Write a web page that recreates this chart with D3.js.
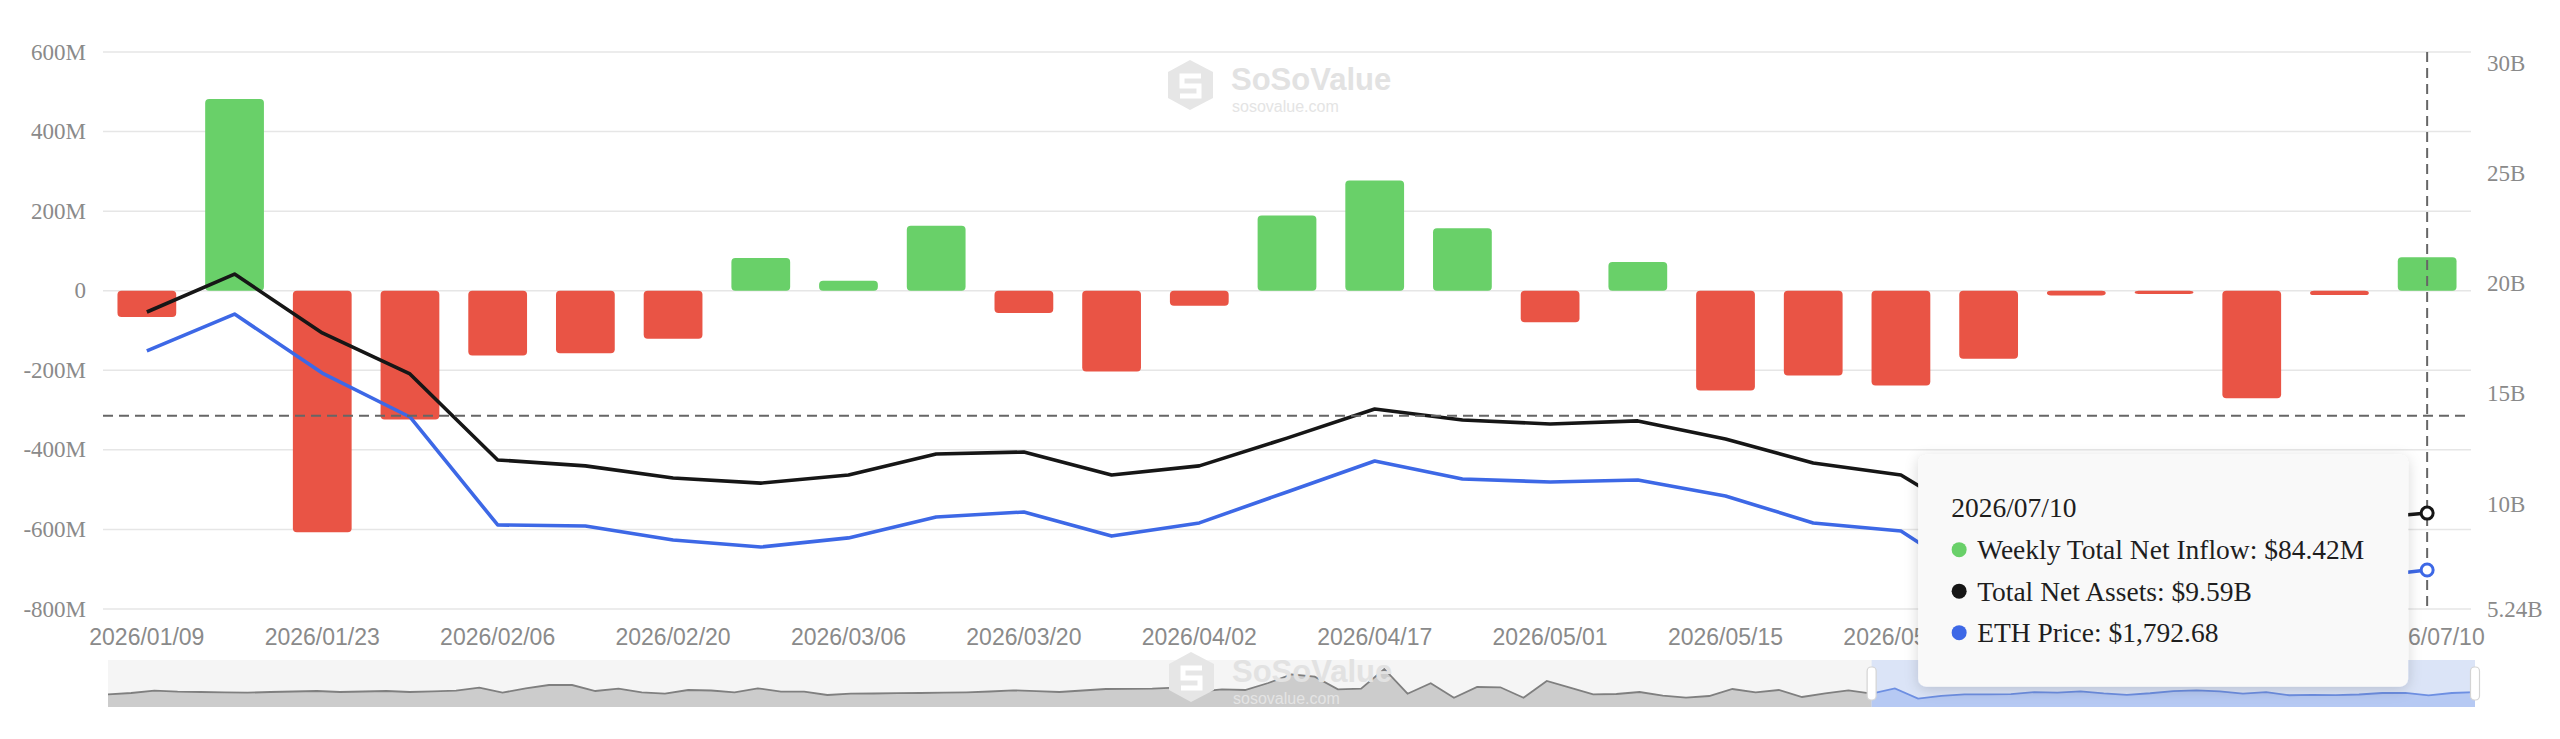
<!DOCTYPE html>
<html>
<head>
  <meta charset="utf-8">
  <title>ETH Spot ETF Weekly Total Net Inflow</title>
  <style>
    body { margin: 0; background: #fff; }
    .axis_label { font-family: "Liberation Serif", "Times New Roman", serif; font-size: 23px; fill: #8a8a8a; dominant-baseline: central; }
    .date_label { font-family: "Liberation Sans", Arial, sans-serif; font-size: 23px; fill: #8a8a8a; text-anchor: middle; dominant-baseline: central; }
    .tip_text { font-family: "Liberation Serif", "Times New Roman", serif; font-size: 27.5px; fill: #1e1e1e; dominant-baseline: central; }
    .wm_big { font-family: "Liberation Sans", Arial, sans-serif; font-weight: bold; font-size: 31px; fill: #e2e2e2; }
    .wm_small { font-family: "Liberation Sans", Arial, sans-serif; font-size: 16px; fill: #e4e4e4; }
  </style>
</head>
<body>
  <svg id="chart"></svg>
  <script src="https://cdnjs.cloudflare.com/ajax/libs/d3/7.8.5/d3.min.js"></script>
  <script>
    // visible weeks (main window)
    const weeks = ["2026/01/09", "2026/01/16", "2026/01/23", "2026/01/30", "2026/02/06", "2026/02/13", "2026/02/20",
      "2026/02/27", "2026/03/06", "2026/03/13", "2026/03/20", "2026/03/27", "2026/04/02", "2026/04/10", "2026/04/17",
      "2026/04/24", "2026/05/01", "2026/05/08", "2026/05/15", "2026/05/22", "2026/05/29", "2026/06/05", "2026/06/12",
      "2026/06/19", "2026/06/26", "2026/07/02", "2026/07/10"];

    // weekly total net inflow, $M
    const weeklyInflow = [-66, 482, -607, -324, -163, -157, -121, 82, 25, 163, -56, -203, -38, 189, 277, 157, -79, 72,
      -251, -213, -238, -171, -12, -8, -270, -11, 84.42];

    // total net assets, $B
    const totalNetAssets = [18.71, 20.43, 17.76, 15.90, 12.00, 11.73, 11.18, 10.95, 11.32, 12.27, 12.36, 11.32, 11.73,
      12.99, 14.31, 13.81, 13.63, 13.77, 12.95, 11.86, 11.32, 8.91, 9.28, 9.37, 9.09, 9.23, 9.59];

    // ETH price, $
    const ethPrice = [2874, 3056, 2765, 2548, 2015, 2010, 1941, 1906, 1951, 2054, 2079, 1960, 2025, 2178, 2331, 2242,
      2227, 2237, 2158, 2025, 1985, 1704, 1723, 1743, 1714, 1743, 1792.68];

    // earlier weekly inflow shown only in the slider, $M
    const historyInflow = [-149, -11, 234, 128, 96, 64, 21, 96, 149, 202, 96, 149, 202, 96, 170, 234, 553, 21, 489, 840,
      840, 202, 447, 64, -85, 309, 255, 64, 489, 128, 128, -223, -85, -64, -32, -11, 32, 64, 149, 277,
      181, 96, 255, 415, 436, 447, 553, 128, 383, 309, 1053, 1979, 1723, 383, 447, 2543, -85, 1021, -511, 628,
      596, -511, 1266, 553, -149, -117, 96, -298, -511, -330, 415, 64, 309, -436, -43, 277];

    const leftTicks = [-800, -600, -400, -200, 0, 200, 400, 600];
    const rightTicks = [5.24, 10, 15, 20, 25, 30];
    const hoverIndex = 26;
    const cursorInflow = -314;

    const dims = { width: 2560, height: 739, left: 103, right: 2471, top: 52, bottom: 609, nav_top: 660, nav_bottom: 707, nav_left: 108, nav_right: 2475 };
    const colors = { up: "#69d069", down: "#e95445", assets: "#161616", eth: "#3d68e6", grid: "#e6e6e6", label: "#8a8a8a" };

    const svg = d3.select("#chart").attr("width", dims.width).attr("height", dims.height);

    const defs = svg.append("defs");
    const shadow = defs.append("filter").attr("id", "tipshadow").attr("x", "-10%").attr("y", "-10%").attr("width", "120%").attr("height", "130%");
    shadow.append("feDropShadow").attr("dx", 0).attr("dy", 3).attr("stdDeviation", 7).attr("flood-color", "#000").attr("flood-opacity", 0.16);

    const x = d3.scaleBand().domain(weeks).range([dims.left, dims.right]).paddingInner(0.33).paddingOuter(0.165);
    const xc = w => x(w) + x.bandwidth() / 2;
    const yLeft = d3.scaleLinear().domain([-800, 600]).range([dims.bottom, dims.top]);
    const yRight = d3.scaleLinear().domain([5.24, 30.5]).range([dims.bottom, dims.top]);
    const yEth = d3.scaleLinear().domain([1600, 4350]).range([dims.bottom, dims.top]);

    // watermark
    const watermark = (g, ox, oy) => {
      const wm = g.append("g").attr("transform", "translate(" + ox + "," + oy + ")");
      const hex = [[22, 0], [45, 12], [45, 38], [22, 50], [0, 38], [0, 12]];
      wm.append("path").attr("d", d3.line()(hex) + "Z").attr("fill", "#e6e6e6");
      wm.append("path").attr("d", d3.line()([[33, 16], [14, 16], [14, 26], [31, 26], [31, 36], [12, 36]]))
        .attr("fill", "none").attr("stroke", "#fff").attr("stroke-width", 5);
      wm.append("text").attr("class", "wm_big").attr("x", 63).attr("y", 30).text("SoSoValue");
      wm.append("text").attr("class", "wm_small").attr("x", 64).attr("y", 52).text("sosovalue.com");
    };
    watermark(svg, 1168, 60);

    // grid + axes
    svg.append("g").selectAll("line").data(leftTicks).enter().append("line")
      .attr("x1", dims.left).attr("x2", dims.right)
      .attr("y1", t => yLeft(t)).attr("y2", t => yLeft(t))
      .attr("stroke", colors.grid).attr("stroke-width", 1.5);

    svg.append("g").selectAll("text").data(leftTicks).enter().append("text")
      .attr("class", "axis_label").attr("text-anchor", "end")
      .attr("x", 86).attr("y", t => yLeft(t))
      .text(t => t === 0 ? "0" : t + "M");

    svg.append("g").selectAll("text").data(rightTicks).enter().append("text")
      .attr("class", "axis_label").attr("text-anchor", "start")
      .attr("x", 2487).attr("y", t => yRight(t))
      .text(t => t + "B");

    // tooltip box, needed to know which date labels it hides
    const tipW = 490, tipH = 232;
    const cx = xc(weeks[hoverIndex]);
    const cy = yLeft(cursorInflow);
    const tipX = cx - 19 - tipW, tipY = cy + 39;
    const hidden = w => xc(w) - 59 > tipX && xc(w) + 59 < tipX + tipW;

    svg.append("g").selectAll("text").data(weeks.filter((w, i) => i % 2 === 0 && !hidden(w))).enter().append("text")
      .attr("class", "date_label").attr("x", w => xc(w)).attr("y", 637).text(w => w);

    // bars
    svg.append("g").selectAll("rect").data(weeklyInflow).enter().append("rect")
      .attr("x", (_, i) => x(weeks[i]))
      .attr("width", x.bandwidth())
      .attr("y", v => Math.min(yLeft(v), yLeft(0)))
      .attr("height", v => Math.abs(yLeft(v) - yLeft(0)))
      .attr("rx", 4)
      .attr("fill", v => v >= 0 ? colors.up : colors.down);

    // lines
    const assetsLine = d3.line().x((_, i) => xc(weeks[i])).y(v => yRight(v));
    const ethLine = d3.line().x((_, i) => xc(weeks[i])).y(v => yEth(v));
    svg.append("path").attr("d", assetsLine(totalNetAssets)).attr("fill", "none")
      .attr("stroke", colors.assets).attr("stroke-width", 3.6).attr("stroke-linejoin", "round");
    svg.append("path").attr("d", ethLine(ethPrice)).attr("fill", "none")
      .attr("stroke", colors.eth).attr("stroke-width", 3.6).attr("stroke-linejoin", "round");

    // crosshair
    svg.append("line").attr("x1", dims.left).attr("x2", dims.right).attr("y1", cy).attr("y2", cy)
      .attr("stroke", "#666").attr("stroke-width", 2).attr("stroke-dasharray", "10,6");
    svg.append("line").attr("x1", cx).attr("x2", cx).attr("y1", dims.top).attr("y2", dims.bottom)
      .attr("stroke", "#666").attr("stroke-width", 2).attr("stroke-dasharray", "10,6");

    svg.append("circle").attr("cx", cx).attr("cy", yRight(totalNetAssets[hoverIndex])).attr("r", 6)
      .attr("fill", "#fff").attr("stroke", colors.assets).attr("stroke-width", 3);
    svg.append("circle").attr("cx", cx).attr("cy", yEth(ethPrice[hoverIndex])).attr("r", 6)
      .attr("fill", "#fff").attr("stroke", colors.eth).attr("stroke-width", 3);

    // slider
    const navData = historyInflow.concat(weeklyInflow);
    const navX = d3.scaleLinear().domain([0, navData.length - 1]).range([dims.nav_left, dims.nav_right]);
    const navY = d3.scaleLinear().domain([-1500, 3500]).range([dims.nav_bottom, dims.nav_top]);
    const winStart = navX(historyInflow.length);
    const navH = dims.nav_bottom - dims.nav_top;

    svg.append("rect").attr("x", dims.nav_left).attr("y", dims.nav_top).attr("width", dims.nav_right - dims.nav_left)
      .attr("height", navH).attr("fill", "#f5f5f5");
    svg.append("rect").attr("x", winStart).attr("y", dims.nav_top).attr("width", dims.nav_right - winStart)
      .attr("height", navH).attr("fill", "#dbe4f7");

    defs.append("clipPath").attr("id", "navOut").append("rect")
      .attr("x", dims.nav_left).attr("y", dims.nav_top).attr("width", winStart - dims.nav_left).attr("height", navH);
    defs.append("clipPath").attr("id", "navIn").append("rect")
      .attr("x", winStart).attr("y", dims.nav_top).attr("width", dims.nav_right - winStart).attr("height", navH);

    const navArea = d3.area().x((_, i) => navX(i)).y0(dims.nav_bottom).y1(v => navY(v));
    const navLine = d3.line().x((_, i) => navX(i)).y(v => navY(v));
    const gOut = svg.append("g").attr("clip-path", "url(#navOut)");
    gOut.append("path").attr("d", navArea(navData)).attr("fill", "#cccccc");
    gOut.append("path").attr("d", navLine(navData)).attr("fill", "none").attr("stroke", "#7f7f7f").attr("stroke-width", 1.8);
    const gIn = svg.append("g").attr("clip-path", "url(#navIn)");
    gIn.append("path").attr("d", navArea(navData)).attr("fill", "#b6c9f3");
    gIn.append("path").attr("d", navLine(navData)).attr("fill", "none").attr("stroke", "#6d8fe2").attr("stroke-width", 1.8);

    [winStart, dims.nav_right].forEach(hx => {
      svg.append("rect").attr("x", hx - 4.5).attr("y", 667).attr("width", 9).attr("height", 33).attr("rx", 4)
        .attr("fill", "#fff").attr("stroke", "#d4d4d4").attr("stroke-width", 1.2);
    });

    watermark(svg, 1169, 652);

    // tooltip
    const tip = svg.append("g").attr("transform", "translate(" + tipX + "," + tipY + ")");
    tip.append("rect").attr("width", tipW).attr("height", tipH).attr("rx", 8)
      .attr("fill", "#f9f9f9").attr("filter", "url(#tipshadow)");
    tip.append("text").attr("class", "tip_text").attr("x", 33).attr("y", 53).text(weeks[hoverIndex]);

    const rows = [
      { color: colors.up, text: "Weekly Total Net Inflow: $" + weeklyInflow[hoverIndex].toFixed(2) + "M" },
      { color: colors.assets, text: "Total Net Assets: $" + totalNetAssets[hoverIndex].toFixed(2) + "B" },
      { color: colors.eth, text: "ETH Price: $" + d3.format(",.2f")(ethPrice[hoverIndex]) }
    ];
    rows.forEach((r, i) => {
      const ry = 95 + i * 41.5;
      tip.append("circle").attr("cx", 41).attr("cy", ry).attr("r", 7.5).attr("fill", r.color);
      tip.append("text").attr("class", "tip_text").attr("x", 59).attr("y", ry).text(r.text);
    });
  </script>
</body>
</html>
